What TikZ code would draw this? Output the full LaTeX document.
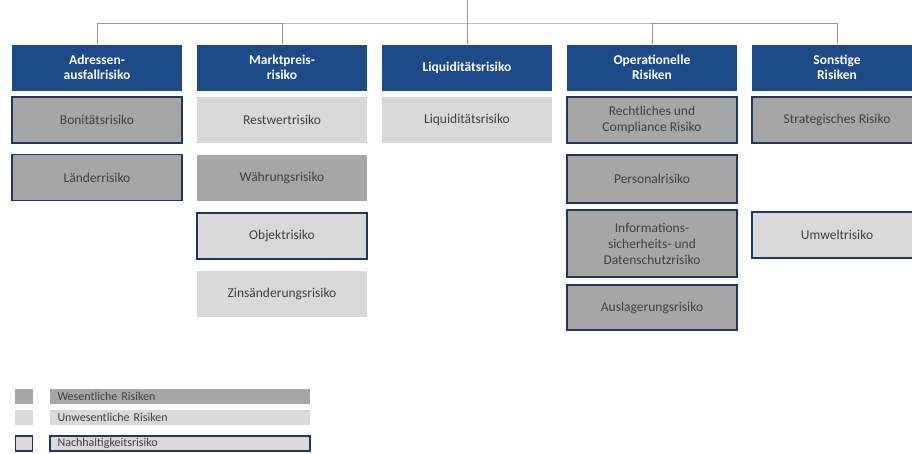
\documentclass[tikz,border=0pt]{standalone}
\usepackage{fontspec}
\setmainfont{Carlito}
\definecolor{kopfblau}{RGB}{28,74,136}
\definecolor{wesgrau}{RGB}{166,166,166}
\definecolor{unwgrau}{RGB}{217,217,217}
\definecolor{randblau}{RGB}{33,56,92}
\definecolor{textgrau}{RGB}{64,64,64}
\tikzset{
  kopf/.style={fill=kopfblau, text=white, font=\bfseries\fontsize{13.5}{15.5}\selectfont,
    minimum width=170pt, minimum height=46pt, align=center, inner sep=0pt},
  feld/.style={text=textgrau, font=\fontsize{13.5}{16}\selectfont,
    minimum width=170pt, minimum height=46pt, align=center, inner sep=0pt},
  wes/.style={feld, fill=wesgrau},
  unw/.style={feld, fill=unwgrau},
  nach/.style={draw=randblau, line width=1.8pt},
  baum/.style={draw=black!40, line width=0.8pt},
  legtext/.style={text=textgrau, font=\fontsize{12}{13}\selectfont, text width=245pt,
    align=left, minimum height=15pt, inner sep=0pt, inner xsep=7.5pt}
}
\begin{document}
\begin{tikzpicture}[x=1pt, y=-1pt]
\useasboundingbox (0,0) rectangle (912,453);
\clip (0,0) rectangle (912,453);

\coordinate (spitze) at (467,0);
\coordinate (bar) at (467,23);

% Kopfzeile
\node [kopf] (adr) at (97,67.5) {Adressen-\\ausfallrisiko};
\node [kopf] (mkt) at (282,67.5) {Marktpreis-\\risiko};
\node [kopf] (liq) at (467,67.5) {Liquiditätsrisiko};
\node [kopf] (ops) at (652,67.5) {Operationelle\\Risiken};
\node [kopf] (son) at (837,67.5) {Sonstige\\Risiken};

\draw [baum] (spitze) -- (liq.north);
\draw [baum] (adr.north) |- (bar) -| (son.north);
\draw [baum] (mkt.north) -- (mkt.north |- bar);
\draw [baum] (ops.north) -- (ops.north |- bar);

% Adressenausfallrisiko
\node [wes, nach] (bon) at (97,120) {Bonitätsrisiko};
\node [wes, nach] (lae) at (97,177.5) {Länderrisiko};

% Marktpreisrisiko
\node [unw] (res) at (282,120) {Restwertrisiko};
\node [wes] (wae) at (282,177.5) {Währungsrisiko};
\node [unw, nach] (obj) at (282,236) {Objektrisiko};
\node [unw] (zin) at (282,293.5) {Zinsänderungsrisiko};

% Liquiditaetsrisiko
\node [unw] (liq1) at (467,120) {Liquiditätsrisiko};

% Operationelle Risiken
\node [wes, nach] (rec) at (652,120) {Rechtliches und\\Compliance Risiko};
\node [wes, nach, minimum height=48pt] (per) at (652,179) {Personalrisiko};
\node [wes, nach, minimum height=67pt] (inf) at (652,243.5) {Informations-\\sicherheits- und\\Datenschutzrisiko};
\node [wes, nach, minimum height=45pt] (aus) at (652,307.5) {Auslagerungsrisiko};

% Sonstige Risiken
\node [wes, nach] (str) at (837,120) {Strategisches Risiko};
\node [unw, nach] (umw) at (837,235) {Umweltrisiko};

% Legende
\node [fill=wesgrau, minimum width=18pt, minimum height=15pt, inner sep=0pt] (lq1) at (24,396.5) {};
\node [fill=unwgrau, minimum width=18pt, minimum height=15pt, inner sep=0pt] (lq2) at (24,417) {};
\node [fill=unwgrau, nach, line width=1.3pt, minimum width=17pt, minimum height=15pt, inner sep=0pt] (lq3) at (24,443.5) {};
\node [legtext, fill=wesgrau] (lb1) at (180,396.5) {Wesentliche Risiken};
\node [legtext, fill=unwgrau] (lb2) at (180,417) {Unwesentliche Risiken};
\node [legtext, fill=unwgrau, nach, line width=1.3pt] (lb3) at (180,443.5) {Nachhaltigkeitsrisiko};

\end{tikzpicture}
\end{document}
